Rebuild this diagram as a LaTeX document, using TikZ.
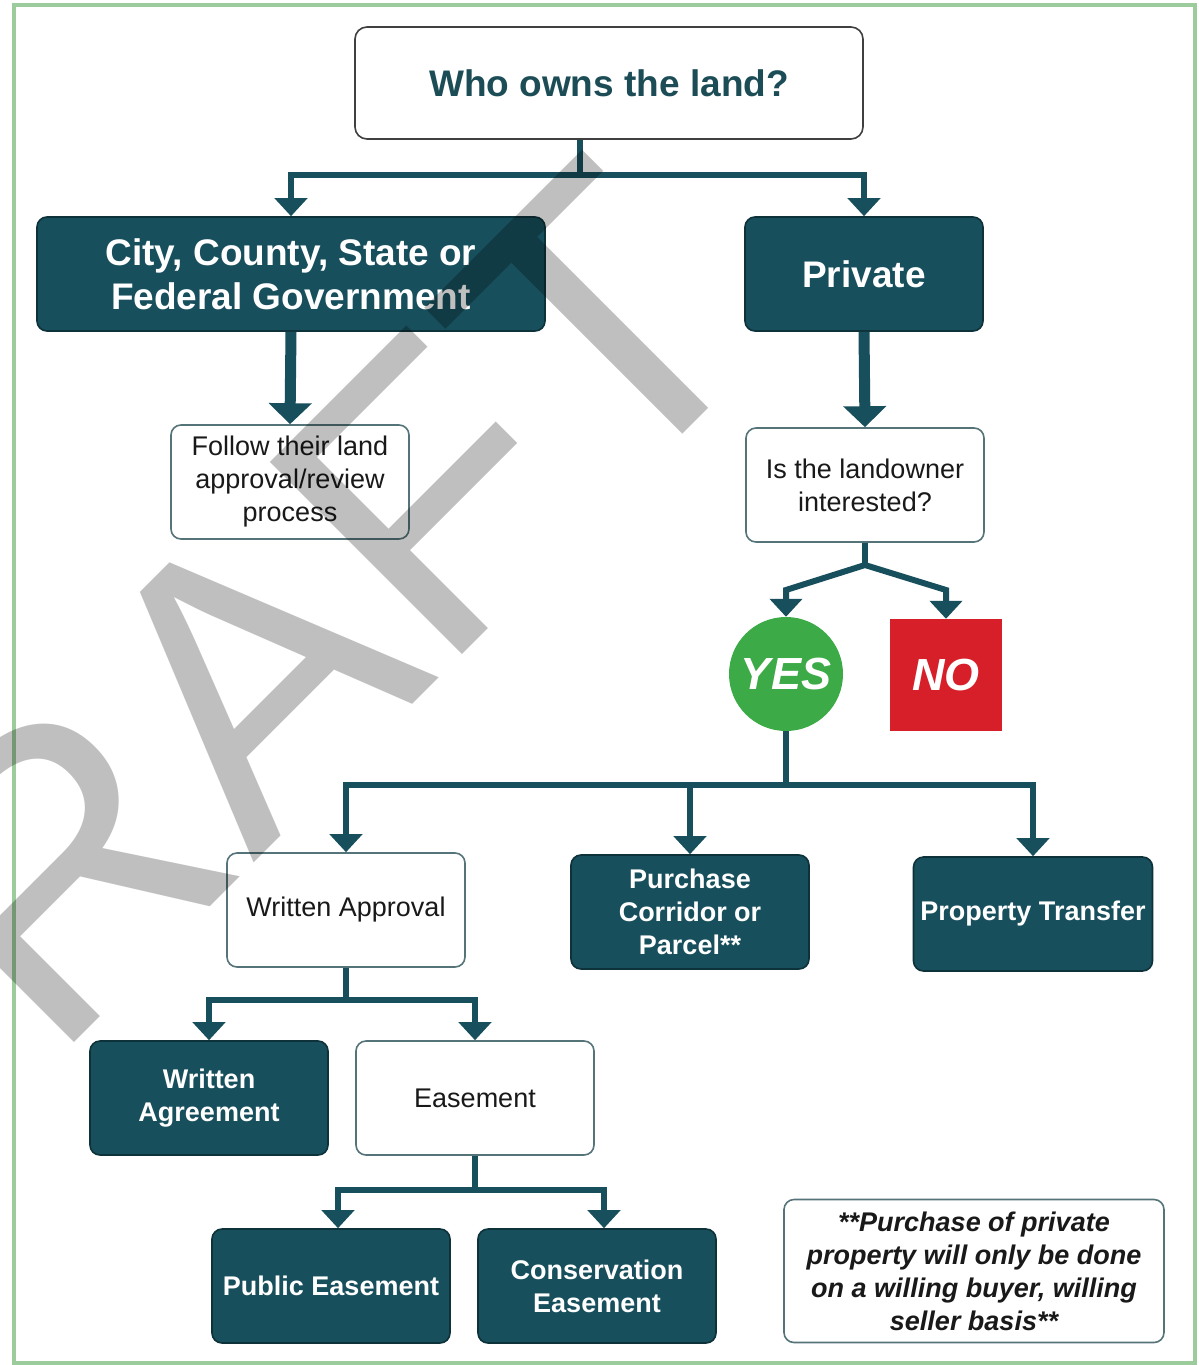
\documentclass[tikz,border=0pt]{standalone}
\usepackage{fontspec}
\setmainfont{Liberation Sans}
\usetikzlibrary{arrows.meta,calc,shapes.geometric}
\definecolor{tealbox}{HTML}{184F5C}
\definecolor{tealedge}{HTML}{0E323A}
\definecolor{lightedge}{HTML}{557479}
\definecolor{titletext}{HTML}{1C4D57}
\definecolor{yesgreen}{HTML}{3CAB47}
\definecolor{nored}{HTML}{D71F2A}
\definecolor{framegreen}{HTML}{9CCB9C}
\begin{document}
\begin{tikzpicture}[x=1pt,y=-1pt,
  box/.style={rounded corners=10pt, minimum width=238pt, minimum height=114pt, align=center, inner sep=0pt, line width=1.6pt},
  darkbox/.style={box, fill=tealbox, draw=tealedge, text=white, font=\bfseries\fontsize{27}{33}\selectfont},
  lightbox/.style={box, fill=white, draw=lightedge, text=black!90, font=\fontsize{27}{33}\selectfont},
  bigdark/.style={darkbox, font=\bfseries\fontsize{37}{44}\selectfont},
  conn/.style={draw=tealbox, line width=6pt},
  arr/.style={conn, -{Triangle[width=32pt,length=18pt]}},
  thickarr/.style={draw=tealbox, line width=11pt, -{Triangle[width=42pt,length=21pt]}},
  answer/.style={inner sep=0pt, text=white, font=\bfseries\itshape\fontsize{45}{45}\selectfont}
]
\useasboundingbox (0,0) rectangle (1199,1365);
\clip (0,0) rectangle (1199,1365);
\fill[white] (0,0) rectangle (1199,1365);
\draw[framegreen, line width=4pt] (14,5) rectangle (1195,1363);

% nodes
\node[box, minimum width=508pt, minimum height=112pt, rounded corners=12pt, fill=white, draw=black!75, text=titletext, font=\bfseries\fontsize{37}{44}\selectfont] (title) at (609,83) {Who owns the land?};
\node[bigdark, minimum width=508pt] (gov) at (291,274) {City, County, State or\\Federal Government};
\node[bigdark] (private) at (864,274) {Private};
\node[lightbox] (follow) at (290,482) {Follow their land\\approval/review\\process};
\node[lightbox] (owner) at (865,485) {Is the landowner\\interested?};
\node[answer, circle, fill=yesgreen, minimum size=114pt] (yes) at (786,674) {YES};
\node[answer, rectangle, fill=nored, minimum size=112pt] (no) at (946,675) {NO};
\node[lightbox] (approval) at (346,910) {Written Approval};
\node[darkbox] (purchase) at (690,912) {Purchase\\Corridor or\\Parcel**};
\node[darkbox, minimum width=239pt] (transfer) at (1033,914) {Property Transfer};
\node[darkbox] (agreement) at (209,1098) {Written\\Agreement};
\node[lightbox] (easement) at (475,1098) {Easement};
\node[darkbox] (public) at (331,1286) {Public Easement};
\node[darkbox] (conservation) at (597,1286) {Conservation\\Easement};
\node[lightbox, minimum width=380pt, minimum height=143pt, font=\bfseries\itshape\fontsize{27}{33}\selectfont] (note) at (974,1271) {**Purchase of private\\property will only be done\\on a willing buyer, willing\\seller basis**};

% connectors
\coordinate (j1) at (580,175);
\draw[conn] (title.south -| j1) -- (j1);
\draw[arr] (j1) -| (gov.north);
\draw[arr] (j1) -| (private.north);
\draw[thickarr] (gov.south) -- (follow.north);
\draw[thickarr] (private.south) -- (owner.north);

\coordinate (j2) at (865,565);
\coordinate (yb) at (786,590);
\coordinate (nb) at (946,590);
\draw[conn] (owner.south) -- (j2);
\draw[arr] (j2) -- (yb) -- (yes.north);
\draw[arr] (j2) -- (nb) -- (no.north);

\coordinate (j3) at (784,785);
\draw[conn] (yes.south) -- (yes.south |- j3);
\draw[arr] (yes.south |- j3) -| (approval.north);
\draw[arr] (yes.south |- j3) -| (purchase.north);
\draw[arr] (yes.south |- j3) -| (transfer.north);

\coordinate (j4) at (346,1000);
\draw[conn] (approval.south) -- (approval.south |- j4);
\draw[arr] (approval.south |- j4) -| (agreement.north);
\draw[arr] (approval.south |- j4) -| (easement.north);

\coordinate (j5) at (475,1190);
\draw[conn] (easement.south) -- (easement.south |- j5);
\draw[arr] (easement.south |- j5) -| ($(public.north)+(7,0)$);
\draw[arr] (easement.south |- j5) -| ($(conservation.north)+(7,0)$);

% watermark
\node[rotate=45, anchor=base west, inner sep=0pt, text=black, text opacity=0.25, font=\fontsize{395}{395}\selectfont] (wm) at (-150,1267) {DRAFT};
\end{tikzpicture}
\end{document}
